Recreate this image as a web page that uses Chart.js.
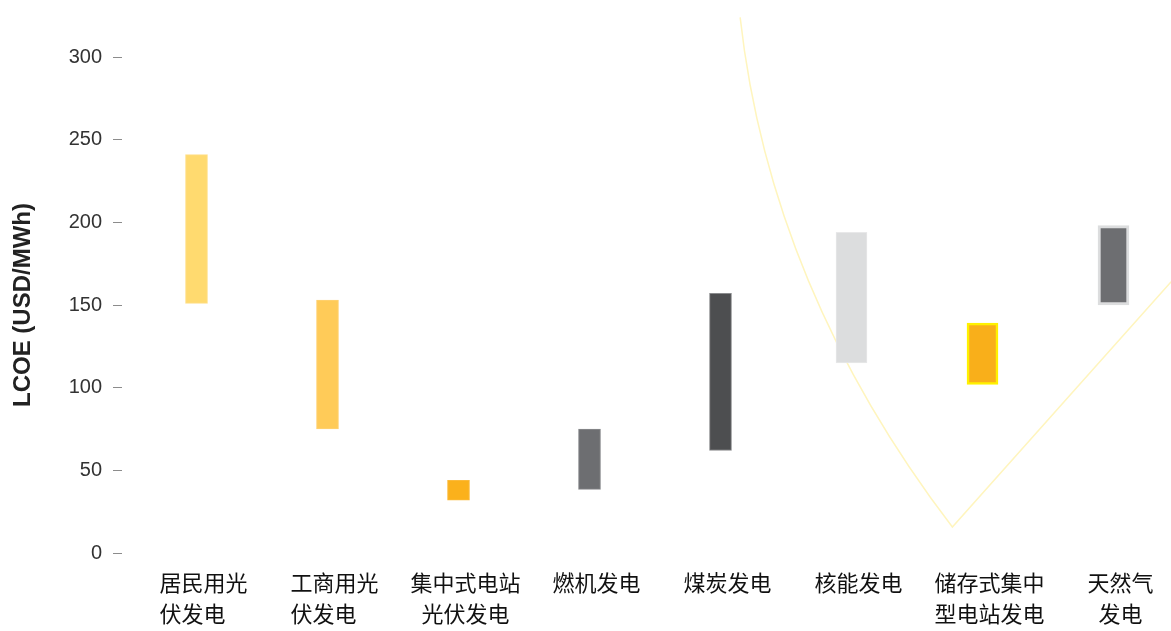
<!DOCTYPE html>
<html>
<head>
<meta charset="utf-8">
<script src="https://cdn.jsdelivr.net/npm/chart.js@4"></script>
<style>
  html, body { margin: 0; background: #fff; overflow: hidden; }
  #wrap { width: 1179px; height: 631px; }
</style>
</head>
<body>
<div id="wrap"><canvas id="chart"></canvas></div>
<script>
// data
const categories = [
  ["居民用光", "伏发电　"],
  ["工商用光", "伏发电　"],
  ["集中式电站", "光伏发电"],
  "燃机发电",
  "煤炭发电",
  "核能发电",
  ["储存式集中", "型电站发电"],
  ["天然气", "发电"]
];
const lowValues = [151, 75, 32, 38.5, 62, 115, 102, 150];
const highValues = [241, 153, 44, 75, 157, 194, 139, 198];
const yTicks = [0, 50, 100, 150, 200, 250, 300];

// faint decorative stroke behind the bars, in category-index / LCOE units
// (quadratic curve: start, control, end; then a straight line to decoLineEnd)
const decoCurveX = [4.15, 4.38, 5.77];
const decoCurveY = [324, 160, 15.7];
const decoLineEnd = [7.44, 164];

const fillColors = ["#FFDA6F", "#FFCB58", "#FBB11C", "#6D6E71", "#4D4E50", "#DCDDDE", "#F9AF1A", "#6D6E71"];
const edgeColors = ["#FFE08A", "#FFD273", "#FCBA3A", "#8A8B8E", "#8A8B8D", "#E8E8E9", "#FFF100", "#DCDDDE"];
const edgeWidths = [1, 1, 1, 1, 1, 1, 2.5, 3];

const ranges = lowValues.map((lo, i) => [lo, highValues[i]]);
const narrow = ranges.map((r, i) => (i < 5 ? r : null));
const wide = ranges.map((r, i) => (i >= 5 ? r : null));

const decoPlugin = {
  id: "deco",
  beforeDatasetsDraw(chart) {
    const { ctx, scales } = chart;
    const px = decoCurveX.map(v => scales.x.getPixelForValue(v));
    const py = decoCurveY.map(v => scales.y.getPixelForValue(v));
    ctx.save();
    ctx.strokeStyle = "#FFF5BE";
    ctx.lineWidth = 1.5;
    ctx.beginPath();
    ctx.moveTo(px[0], py[0]);
    ctx.quadraticCurveTo(px[1], py[1], px[2], py[2]);
    ctx.lineTo(scales.x.getPixelForValue(decoLineEnd[0]), scales.y.getPixelForValue(decoLineEnd[1]));
    ctx.stroke();
    ctx.restore();
  }
};

const ctx = document.getElementById("chart").getContext("2d");
new Chart(ctx, {
  type: "bar",
  data: {
    labels: categories,
    datasets: [
      {
        data: narrow,
        backgroundColor: fillColors,
        borderColor: edgeColors,
        borderWidth: edgeWidths,
        borderSkipped: false,
        barThickness: 22,
        grouped: false
      },
      {
        data: wide,
        backgroundColor: fillColors,
        borderColor: edgeColors,
        borderWidth: edgeWidths,
        borderSkipped: false,
        barThickness: 31,
        grouped: false
      }
    ]
  },
  options: {
    responsive: true,
    maintainAspectRatio: false,
    animation: false,
    layout: { padding: { top: 57, right: 0, left: 0, bottom: 0 } },
    plugins: { legend: { display: false }, tooltip: { enabled: false } },
    scales: {
      x: {
        grid: { display: false, drawTicks: false },
        border: { display: false },
        ticks: {
          color: "#111",
          padding: 15,
          labelOffset: 7,
          maxRotation: 0,
          autoSkip: false,
          font: { family: "'Noto Sans CJK SC'", size: 22, lineHeight: 1.37 }
        },
        afterFit: s => { s.height = 78; }
      },
      y: {
        min: 0,
        max: 300,
        afterBuildTicks: s => { s.ticks = yTicks.map(v => ({ value: v })); },
        grid: {
          drawOnChartArea: false,
          drawTicks: true,
          tickLength: 18,
          tickBorderDash: [9, 9],
          tickColor: "#8c8c8c",
          tickWidth: 1
        },
        border: { display: false },
        ticks: {
          color: "#333",
          padding: 11,
          font: { family: "'Liberation Sans', Arial", size: 20 }
        },
        title: {
          display: true,
          text: "LCOE (USD/MWh)",
          color: "#222",
          padding: { top: 9, bottom: 0 },
          font: { family: "'Liberation Sans', Arial", size: 24, weight: "bold" }
        },
        afterFit: s => { s.width = 131; }
      }
    }
  },
  plugins: [decoPlugin]
});
</script>
</body>
</html>
